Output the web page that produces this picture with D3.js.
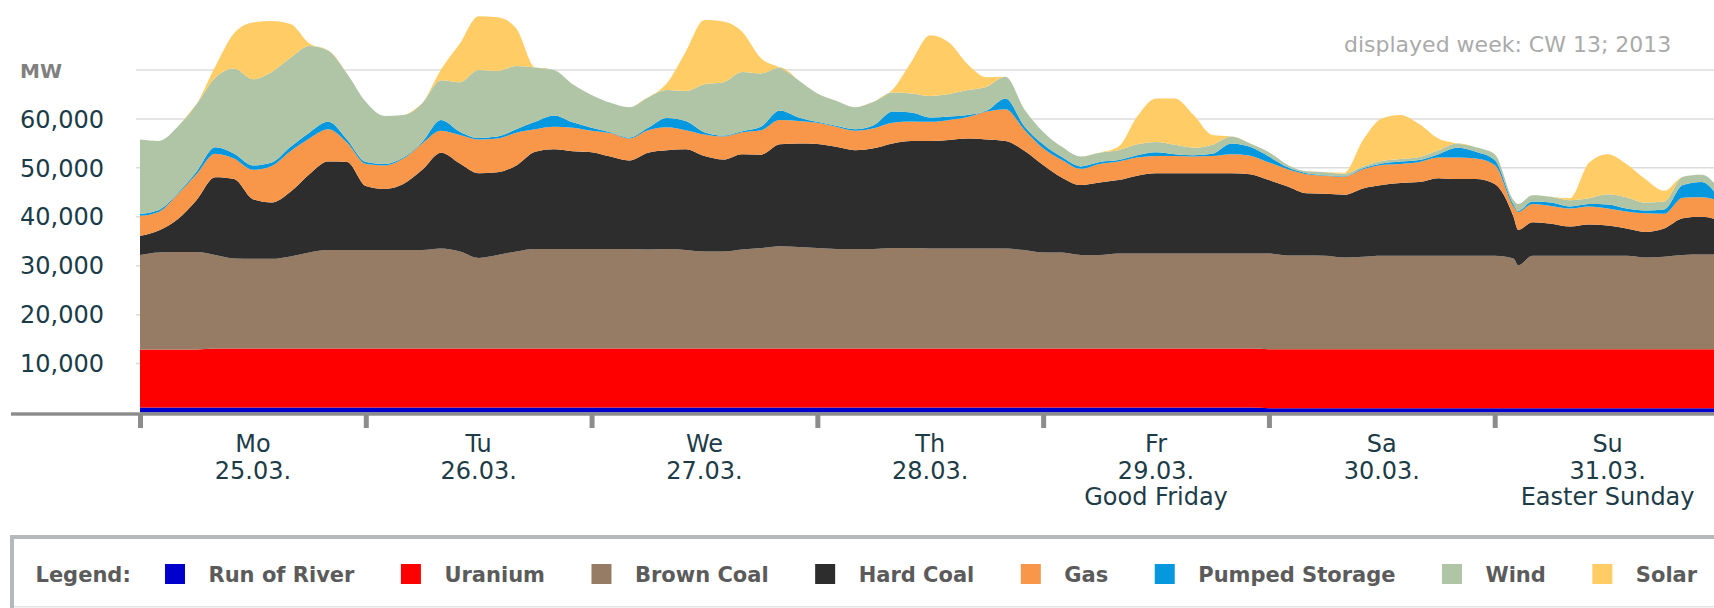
<!DOCTYPE html>
<html>
<head>
<meta charset="utf-8">
<script src="https://cdn.jsdelivr.net/npm/d3@7"></script>
<style>
  html, body { margin: 0; padding: 0; background: #fff; }
  svg { display: block; }
  text { font-family: "DejaVu Sans", Verdana, sans-serif; }
</style>
</head>
<body>
<svg id="chart" width="1714" height="608"></svg>
<script>
// Hour of the week (0 = Monday 00:00), 2-hour steps plus the DST switch on Sunday
const hours = [
  0, 2, 4, 6, 8, 10, 12, 14, 16, 18, 20, 22,
  24, 26, 28, 30, 32, 34, 36, 38, 40, 42, 44, 46,
  48, 50, 52, 54, 56, 58, 60, 62, 64, 66, 68, 70,
  72, 74, 76, 78, 80, 82, 84, 86, 88, 90, 92, 94,
  96, 98, 100, 102, 104, 106, 108, 110, 112, 114, 116, 118,
  120, 122, 124, 126, 128, 130, 132, 134, 136, 138, 140, 142,
  144, 146, 146.5, 148, 150, 152, 154, 156, 158, 160, 162, 164, 166,
  168
];

// Net generation per source, MW
const runOfRiver = [
  1000, 1000, 1000, 1000, 1000, 1000, 1000, 1000, 1000, 1000, 1000, 1000,
  1000, 1000, 1000, 1000, 1000, 1000, 1000, 1000, 1000, 1000, 1000, 1000,
  1000, 1000, 1000, 1000, 1000, 1000, 1000, 1000, 1000, 1000, 1000, 1000,
  1000, 1000, 1000, 1000, 1000, 1000, 1000, 1000, 1000, 1000, 1000, 1000,
  1000, 1000, 1000, 1000, 1000, 1000, 1000, 1000, 1000, 1000, 1000, 1000,
  880, 880, 880, 880, 880, 880, 880, 880, 880, 880, 880, 880,
  880, 880, 880, 880, 880, 880, 880, 880, 880, 880, 880, 880, 880,
  880
];
const uranium = [
  11900, 11900, 11900, 11900, 12100, 12100, 12100, 12100, 12100, 12100, 12100, 12100,
  12100, 12100, 12100, 12100, 12100, 12100, 12100, 12100, 12100, 12100, 12100, 12100,
  12100, 12100, 12100, 12100, 12100, 12100, 12100, 12100, 12100, 12100, 12100, 12100,
  12100, 12100, 12100, 12100, 12100, 12100, 12100, 12100, 12100, 12100, 12100, 12100,
  12100, 12100, 12100, 12100, 12100, 12100, 12100, 12100, 12100, 12100, 12100, 12100,
  12070, 12070, 12070, 12070, 12070, 12070, 12070, 12070, 12070, 12070, 12070, 12070,
  12070, 12070, 12070, 12070, 12070, 12070, 12070, 12070, 12070, 12070, 12070, 12070, 12070,
  12070
];
const brownCoal = [
  19300, 19800, 19900, 19900, 19100, 18400, 18300, 18300, 18800, 19600, 20100, 20100,
  20100, 20100, 20100, 20100, 20400, 19800, 18500, 19100, 19800, 20300, 20300, 20300,
  20300, 20300, 20300, 20200, 20300, 20100, 19800, 19800, 20200, 20500, 20900, 20700,
  20500, 20300, 20300, 20300, 20500, 20500, 20400, 20400, 20400, 20400, 20400, 20100,
  19600, 19600, 19100, 19100, 19400, 19400, 19400, 19400, 19400, 19400, 19400, 19400,
  19550, 19150, 19150, 19100, 18750, 18900, 19100, 19100, 19100, 19100, 19100, 19100,
  19100, 18550, 17150, 19100, 19100, 19100, 19100, 19100, 19100, 18750, 18900, 19250, 19350,
  19350
];
const hardCoal = [
  3900, 4500, 6700, 10600, 15900, 16200, 12200, 11500, 13200, 16000, 18100, 18000,
  13100, 12500, 13500, 16400, 19600, 18000, 17300, 16900, 17600, 19900, 20400, 20000,
  19800, 18900, 18100, 19800, 20200, 20600, 19500, 18800, 19500, 19100, 20800, 21200,
  21300, 20900, 20200, 20600, 21400, 21900, 22000, 22200, 22500, 22300, 22000, 20300,
  17900, 15300, 14300, 14800, 15000, 15900, 16400, 16400, 16400, 16400, 16400, 16200,
  15000, 14100, 12700, 12650, 12800, 13950, 14450, 14850, 15050, 15850, 15650, 15650,
  14650, 8500, 7200, 6850, 6550, 5950, 6350, 6150, 5550, 5200, 5750, 7500, 7700,
  6900
];
const gas = [
  4100, 3800, 5100, 5300, 4800, 4200, 6000, 7500, 8300, 7300, 6600, 4000,
  4500, 4800, 5200, 5400, 4500, 5800, 6900, 6900, 6700, 4600, 4600, 4800,
  4400, 4800, 4500, 4600, 4700, 3900, 4400, 4700, 4500, 5000, 5000, 4600,
  4300, 4100, 4000, 4100, 4200, 4000, 3900, 4100, 4400, 5700, 6500, 4300,
  3400, 3600, 3300, 3800, 3800, 3700, 3500, 3500, 3400, 3500, 3900, 3800,
  3600, 3500, 3900, 3700, 3700, 3900, 4100, 3900, 4100, 4200, 4400, 4200,
  3900, 2100, 3700, 3700, 3600, 3700, 3700, 3500, 3500, 3800, 3000, 4200, 4000,
  4000
];
const pumpedStorage = [
  400, 400, 200, 500, 1300, 1000, 900, 700, 900, 1200, 1500, 600,
  400, 300, 200, 300, 2200, 700, 300, 400, 700, 1500, 2300, 1100,
  600, 200, 200, 500, 1900, 1900, 500, 200, 200, 700, 1900, 700,
  200, 200, 300, 600, 2300, 1800, 900, 700, 400, 200, 2200, 700,
  800, 600, 500, 400, 300, 500, 800, 400, 300, 500, 2200, 1800,
  1200, 400, 200, 100, 100, 200, 300, 500, 400, 700, 2000, 1400,
  1000, 400, 200, 500, 700, 400, 500, 800, 600, 600, 900, 2600, 3100,
  100
];
const wind = [
  15200, 14100, 13600, 13800, 14200, 17400, 17600, 18500, 18200, 17700, 14600, 13500,
  12300, 9800, 8700, 7900, 8100, 10100, 13900, 13400, 12900, 11100, 9300, 7800,
  6700, 6000, 6200, 6200, 5700, 6100, 9800, 10900, 12100, 10900, 8800, 7600,
  5800, 5100, 4500, 4800, 3900, 3900, 4400, 4600, 5100, 4900, 4400, 3500,
  2600, 2100, 2000, 1900, 2000, 2200, 2100, 1900, 1500, 1800, 1400, 700,
  900, 500, 400, 600, 500, 400, 500, 500, 600, 800, 900, 900,
  1200, 900, 1400, 1300, 1200, 1300, 1200, 2100, 2300, 1600, 1600, 1700, 1500,
  2000
];
const solar = [
  0, 0, 0, 0, 2300, 7200, 11600, 10400, 6900, 500, 0, 0,
  0, 0, 0, 0, 2200, 7900, 11000, 11000, 7700, 0, 0, 0,
  0, 0, 0, 0, 1400, 8000, 13100, 12400, 8200, 3100, 0, 0,
  0, 0, 0, 0, 600, 6500, 12400, 10500, 5200, 1900, 0, 0,
  0, 0, 0, 0, 700, 5700, 8900, 9500, 6700, 2000, 0, 0,
  0, 0, 0, 0, 200, 5400, 8700, 9000, 6700, 2400, 0, 0,
  0, 0, 0, 0, 0, 400, 7200, 8200, 6800, 4800, 2200, 0, 0,
  0
];

const seriesNames = ["Run of River", "Uranium", "Brown Coal", "Hard Coal", "Gas", "Pumped Storage", "Wind", "Solar"];
const seriesValues = [runOfRiver, uranium, brownCoal, hardCoal, gas, pumpedStorage, wind, solar];
const seriesColors = ["#0000cc", "#ff0000", "#967c64", "#2d2d2d", "#f8964a", "#0698df", "#afc5a6", "#ffcc66"];

const dayNames = ["Mo", "Tu", "We", "Th", "Fr", "Sa", "Su"];
const dayDates = ["25.03.", "26.03.", "27.03.", "28.03.", "29.03.", "30.03.", "31.03."];
const dayNotes = ["", "", "", "", "Good Friday", "", "Easter Sunday"];
const dayStarts = [0, 24, 48, 72, 96, 120, 144];
const yTicks = [10000, 20000, 30000, 40000, 50000, 60000, 70000];
const yLabelTicks = [10000, 20000, 30000, 40000, 50000, 60000];

const W = 1714, H = 608;
const svg = d3.select("#chart");
svg.append("rect").attr("width", W).attr("height", H).attr("fill", "#fff");

const x = d3.scaleLinear().domain([0, 168]).range([140, 1720.5]);
const y = d3.scaleLinear().domain([0, 70000]).range([412.5, 70]);

// Gridlines (the lower ones only show as short stubs left of the areas)
svg.append("g").selectAll("line").data(yTicks).join("line")
  .attr("x1", 136).attr("x2", W)
  .attr("y1", d => y(d)).attr("y2", d => y(d))
  .attr("stroke", "#dcdcdc").attr("stroke-width", 1.5);

// Y labels
svg.append("g").selectAll("text").data(yLabelTicks).join("text")
  .attr("x", 104).attr("y", d => y(d) + 8.7)
  .attr("text-anchor", "end")
  .attr("font-size", 24).attr("fill", "#1a3c48")
  .text(d => d3.format(",")(d));

svg.append("text").attr("x", 20).attr("y", y(70000) + 8)
  .attr("font-size", 20).attr("font-weight", "bold").attr("fill", "#808080")
  .text("MW");

svg.append("text").attr("x", 1344).attr("y", 51.7)
  .attr("font-size", 22).attr("fill", "#aaaaaa")
  .text("displayed week: CW 13; 2013");

// Stacked areas
const rows = hours.map((h, i) => {
  const r = { hour: h };
  seriesNames.forEach((name, k) => { r[name] = seriesValues[k][i]; });
  return r;
});
const layers = d3.stack().keys(seriesNames)(rows);

svg.append("defs").append("clipPath").attr("id", "plotClip")
  .append("rect").attr("x", 140).attr("y", 0).attr("width", W - 140).attr("height", 413);

const area = d3.area()
  .x(d => x(d.data.hour))
  .y0(d => y(d[0]))
  .y1(d => y(d[1]))
  .curve(d3.curveMonotoneX);

svg.append("g").attr("clip-path", "url(#plotClip)")
  .selectAll("path").data(layers).join("path")
  .attr("d", area)
  .attr("fill", (d, i) => seriesColors[i]);

// X axis line and day ticks
svg.append("rect").attr("x", 11).attr("y", 412.3).attr("width", W - 11).attr("height", 3.4).attr("fill", "#8c8c8c");

const xAxis = d3.axisBottom(x).tickValues(dayStarts).tickSize(14).tickSizeOuter(0).tickFormat("");
const axisG = svg.append("g").attr("transform", "translate(0,414)").call(xAxis);
axisG.select(".domain").remove();
axisG.selectAll(".tick line").attr("stroke", "#8c8c8c").attr("stroke-width", 5);

// Day labels
const dayG = svg.append("g").selectAll("g").data(dayStarts).join("g")
  .attr("transform", d => `translate(${x(d + 12)},0)`);
dayG.each(function (d, i) {
  const g = d3.select(this);
  const lines = [dayNames[i], dayDates[i], dayNotes[i]].filter(s => s);
  lines.forEach((s, j) => {
    g.append("text").attr("x", 0).attr("y", 452 + j * 26.5)
      .attr("text-anchor", "middle").attr("font-size", 24).attr("fill", "#1d3c47")
      .text(s);
  });
});

// Legend box
const leg = svg.append("g");
leg.append("rect").attr("x", 10).attr("y", 535).attr("width", W - 10).attr("height", 4).attr("fill", "#b5b9bb");
leg.append("rect").attr("x", 10).attr("y", 535).attr("width", 4).attr("height", H - 535).attr("fill", "#b5b9bb");
leg.append("rect").attr("x", 14).attr("y", 606).attr("width", W - 14).attr("height", 1.5).attr("fill", "#e3e3e3");

leg.append("text").attr("x", 35.5).attr("y", 581.5)
  .attr("font-size", 21).attr("font-weight", "bold").attr("fill", "#5b5b5b")
  .text("Legend:");

let lx = 165;
seriesNames.forEach((name, i) => {
  leg.append("rect").attr("x", lx).attr("y", 564).attr("width", 20).attr("height", 20).attr("fill", seriesColors[i]);
  const t = leg.append("text").attr("x", lx + 43.5).attr("y", 581.5)
    .attr("font-size", 21).attr("font-weight", "bold").attr("fill", "#5b5b5b")
    .text(name);
  lx = lx + 43.5 + t.node().getComputedTextLength() + 46.5;
});
</script>
</body>
</html>
